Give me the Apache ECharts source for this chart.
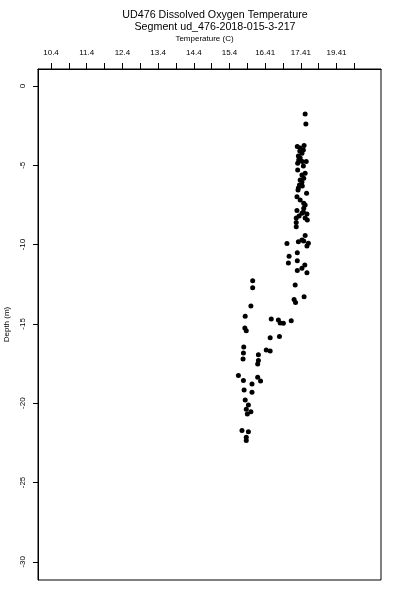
<!DOCTYPE html>
<html><head><meta charset="utf-8">
<script src="https://cdn.jsdelivr.net/npm/echarts@6/dist/echarts.min.js"></script>
<style>html,body{margin:0;padding:0;background:#fff}#c{width:400px;height:600px}</style>
</head><body><div id="c"></div>
<script>
var titleLines = ['UD476 Dissolved Oxygen Temperature', 'Segment ud_476-2018-015-3-217'];
var xName = 'Temperature (C)';
var yName = 'Depth (m)';
var xLabelValues = [10.4, 11.4, 12.4, 13.4, 14.4, 15.4, 16.4, 17.4, 18.4];
var xLabelTexts = ['10.4', '11.4', '12.4', '13.4', '14.4', '15.4', '16.41', '17.41', '19.41'];
var xTickValues = [10.4, 10.9, 11.4, 11.9, 12.4, 12.9, 13.4, 13.9, 14.4, 14.9, 15.4, 15.9, 16.4, 16.9, 17.4, 17.9, 18.4, 18.9];
var yTickValues = [0, -5, -10, -15, -20, -25, -30];
var xRange = [10.035, 19.645];
var yRange = [-31.15, 1.07];
var temperature = [17.52,17.54,17.30,17.38,17.49,17.47,17.43,17.33,17.38,17.44,17.55,17.31,17.31,17.52,17.43,17.48,17.38,17.43,17.36,17.32,17.56,17.29,17.48,17.52,17.48,17.29,17.43,17.57,17.27,17.52,17.27,17.58,17.27,17.52,17.43,17.48,17.33,17.01,17.61,17.57,17.30,17.07,17.30,17.05,17.51,17.43,17.30,17.57,16.05,16.05,17.24,17.49,17.21,17.25,16.00,15.84,16.57,16.77,16.82,16.91,17.13,15.83,15.87,16.54,16.80,15.80,15.79,16.43,16.54,16.21,15.78,16.21,16.19,15.65,15.79,16.03,16.19,16.27,15.81,16.03,15.84,15.93,15.87,16.00,15.90,15.75,15.93,15.87,15.87,17.37,17.34,17.47,17.44,17.33,17.38,17.47,17.35];
var depth = [-1.77,-2.40,-3.81,-3.91,-3.76,-4.04,-4.24,-4.41,-4.54,-4.77,-4.77,-4.87,-5.30,-5.50,-5.61,-5.82,-5.93,-6.05,-6.24,-6.56,-6.77,-6.98,-7.40,-7.50,-7.71,-7.85,-8.03,-8.07,-8.32,-8.32,-8.61,-8.45,-8.87,-9.43,-9.71,-9.77,-9.82,-9.93,-9.92,-10.09,-10.51,-10.74,-11.02,-11.16,-11.29,-11.49,-11.63,-11.77,-12.28,-12.72,-12.55,-13.29,-13.46,-13.66,-13.87,-14.52,-14.70,-14.75,-14.94,-14.96,-14.80,-15.26,-15.43,-15.87,-15.79,-16.46,-16.83,-16.65,-16.71,-16.94,-17.21,-17.31,-17.53,-18.25,-18.57,-18.79,-18.37,-18.60,-19.17,-19.31,-19.80,-20.11,-20.38,-20.54,-20.68,-21.73,-21.80,-22.15,-22.36,-4.10,-4.67,-5.04,-6.31,-6.43,-7.19,-7.94,-8.20];

var pts = temperature.map(function (t, i) { return [t, depth[i]]; });
var font = 'Liberation Sans, Arial, Helvetica, sans-serif';
var chart = echarts.init(document.getElementById('c'), null, {renderer: 'canvas'});
chart.setOption({
  animation: false,
  backgroundColor: '#fff',
  title: [
    {text: titleLines[0], left: 210, top: 5, textAlign: 'center', textStyle: {fontFamily: font, fontSize: 10.7, fontWeight: 'normal', color: '#000'}},
    {text: titleLines[1], left: 210, top: 17, textAlign: 'center', textStyle: {fontFamily: font, fontSize: 10.7, fontWeight: 'normal', color: '#000'}}
  ],
  grid: {left: 38, right: 19, top: 69, bottom: 20, show: true, borderColor: '#000', borderWidth: 1, backgroundColor: 'transparent', outerBoundsMode: 'none', containLabel: false},
  xAxis: {
    type: 'value', position: 'top', min: xRange[0], max: xRange[1],
    name: xName, nameLocation: 'middle', nameGap: 26,
    nameTextStyle: {fontFamily: font, fontSize: 8, color: '#000', padding: [0, 10, 0, 0]},
    axisLine: {show: true, onZero: false, lineStyle: {color: '#000', width: 1}},
    axisTick: {show: true, inside: false, length: 6, lineStyle: {color: '#000'}, customValues: xTickValues},
    axisLabel: {show: true, margin: 12, fontFamily: font, fontSize: 8, color: '#000', customValues: xLabelValues,
      formatter: function (v) {
        for (var i = 0; i < xLabelValues.length; i++) { if (Math.abs(v - xLabelValues[i]) < 1e-6) return xLabelTexts[i]; }
        return '';
      }},
    splitLine: {show: false}
  },
  yAxis: {
    type: 'value', position: 'left', min: yRange[0], max: yRange[1],
    name: yName, nameLocation: 'middle', nameGap: 27, nameRotate: 90,
    nameTextStyle: {fontFamily: font, fontSize: 8, color: '#000'},
    axisLine: {show: true, onZero: false, lineStyle: {color: '#000', width: 1}},
    axisTick: {show: true, inside: false, length: 5, lineStyle: {color: '#000'}, customValues: yTickValues},
    axisLabel: {show: true, rotate: 90, margin: 11, fontFamily: font, fontSize: 8, color: '#000', customValues: yTickValues,
      formatter: function (v) { return String(Math.round(v)); }},
    splitLine: {show: false}
  },
  series: [{
    type: 'scatter', data: pts, symbol: 'circle', symbolSize: 5,
    itemStyle: {color: '#000', opacity: 1}
  }]
});
</script></body></html>
